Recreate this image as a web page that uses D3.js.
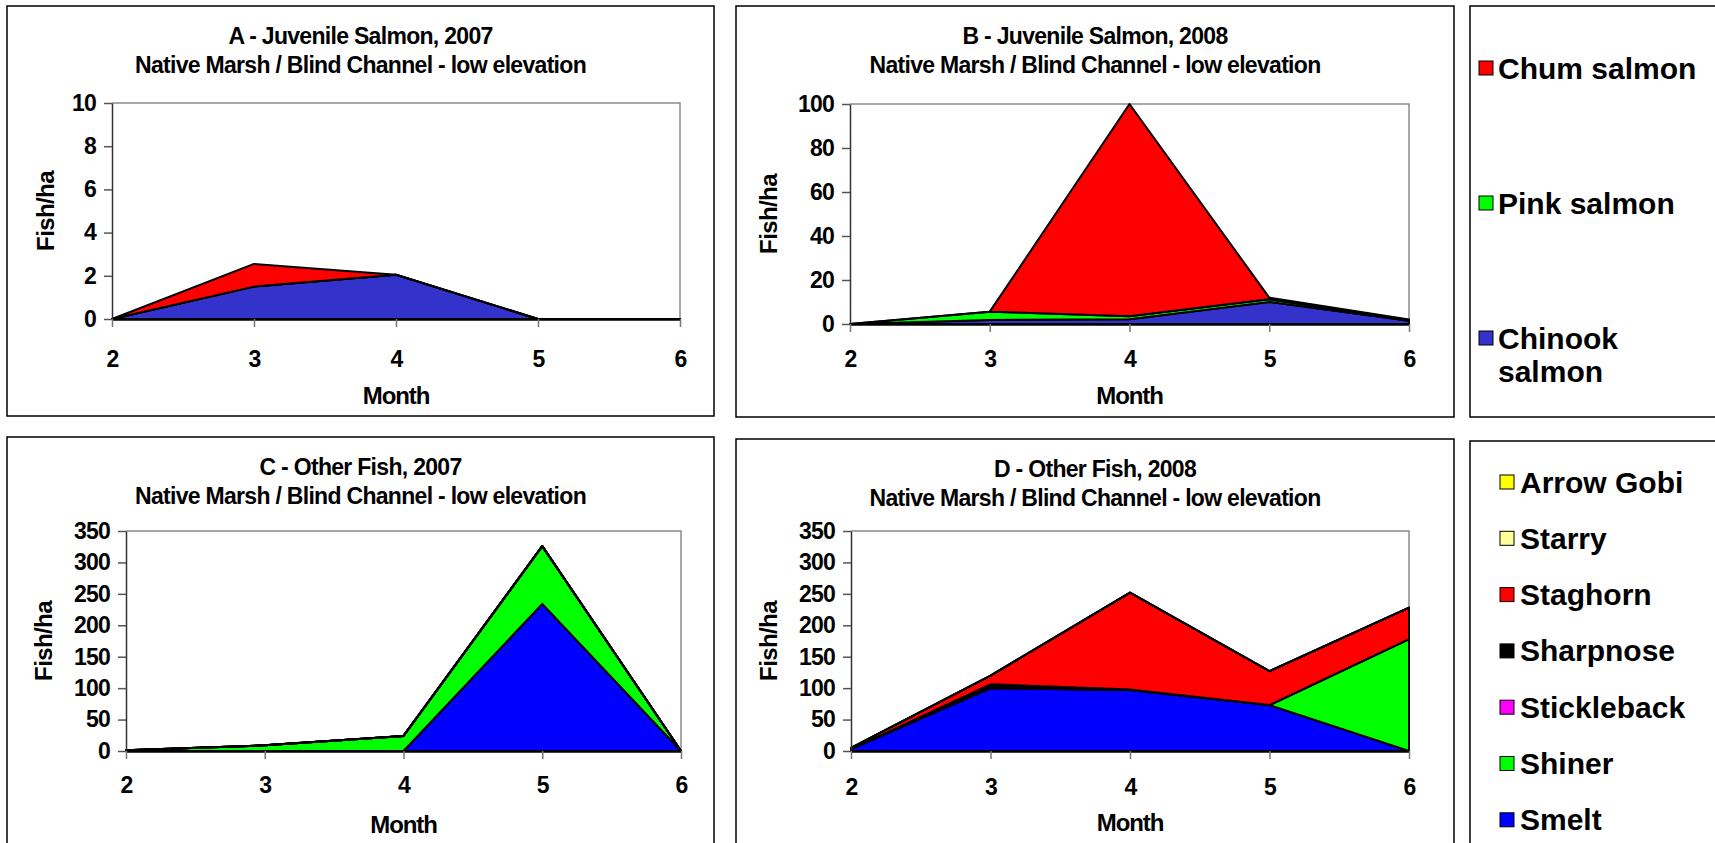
<!DOCTYPE html>
<html>
<head>
<meta charset="utf-8">
<script src="https://cdn.jsdelivr.net/npm/d3@7/dist/d3.min.js"></script>
<style>
  html, body { margin: 0; padding: 0; background: #fff; }
  svg { display: block; }
  text { font-family: "Liberation Sans", Arial, sans-serif; font-weight: bold; fill: #000; }
</style>
</head>
<body>
<svg id="chart" width="1715" height="843"></svg>
<script>
// Months sampled (x axis)
const months = [2, 3, 4, 5, 6];

// Juvenile salmon densities (fish/ha), 2007
const chinook2007 = [0, 1.5, 2.05, 0, 0];
const pink2007    = [0, 0, 0, 0, 0];
const chum2007    = [0, 1.05, 0, 0, 0];

// Juvenile salmon densities (fish/ha), 2008
const chinook2008 = [0, 1.8, 2.2, 10, 1.5];
const pink2008    = [0, 3.8, 1.3, 1.2, 0.3];
const chum2008    = [0, 0, 96.5, 0.8, 0.2];

// Other fish densities (fish/ha), 2007
const smelt2007       = [0, 0, 0, 234, 0];
const shiner2007      = [1, 9, 24, 92, 0];
const stickleback2007 = [0, 0, 0, 0, 0];
const sharpnose2007   = [0, 0, 0, 0, 0];
const staghorn2007    = [0, 0, 0, 0, 0];
const starry2007      = [0, 0, 0, 0, 0];
const arrowGobi2007   = [0, 0, 0, 0, 0];

// Other fish densities (fish/ha), 2008
const smelt2008       = [3, 100, 97, 73, 0];
const shiner2008      = [0, 0, 0, 0, 178];
const stickleback2008 = [0, 3, 1, 0, 0];
const sharpnose2008   = [0, 3, 0, 0, 0];
const staghorn2008    = [2, 14, 154, 54, 50];
const starry2008      = [0, 0, 0, 0, 0];
const arrowGobi2008   = [0, 0, 0, 0, 0];

// Axis ticks
const salmonTicks2007 = [0, 2, 4, 6, 8, 10];
const salmonTicks2008 = [0, 20, 40, 60, 80, 100];
const otherTicks = [0, 50, 100, 150, 200, 250, 300, 350];

// Series names (bottom of the stack first)
const salmonNames = ["Chinook salmon", "Pink salmon", "Chum salmon"];
const otherNames = ["Smelt", "Shiner", "Stickleback", "Sharpnose", "Staghorn", "Starry", "Arrow Gobi"];

const salmonColors = { "Chinook salmon": "#3333CC", "Pink salmon": "#00FF00", "Chum salmon": "#FF0000" };
const otherColors = {
  "Smelt": "#0000FF", "Shiner": "#00FF00", "Stickleback": "#FF00FF", "Sharpnose": "#000000",
  "Staghorn": "#FF0000", "Starry": "#FFFF99", "Arrow Gobi": "#FFFF00"
};

function rows(names, arrays) {
  return months.map((m, i) => {
    const r = { month: m };
    names.forEach((n, k) => r[n] = arrays[k][i]);
    return r;
  });
}

const panels = [
  {
    title: "A - Juvenile Salmon, 2007",
    box: [7, 6, 714, 416], plot: [112, 103, 680, 319],
    tickPad: 24, monthDy: 85, yTitleDx: 39,
    names: salmonNames, colors: salmonColors, ticks: salmonTicks2007,
    data: rows(salmonNames, [chinook2007, pink2007, chum2007])
  },
  {
    title: "B - Juvenile Salmon, 2008",
    box: [736, 6, 1454, 417], plot: [850, 104, 1409, 324],
    tickPad: 19, monthDy: 80, yTitleDx: 33,
    names: salmonNames, colors: salmonColors, ticks: salmonTicks2008,
    data: rows(salmonNames, [chinook2008, pink2008, chum2008])
  },
  {
    title: "C - Other Fish, 2007",
    box: [7, 437, 714, 860], plot: [126, 531, 681, 751],
    tickPad: 18, monthDy: 82, yTitleDx: 37,
    names: otherNames, colors: otherColors, ticks: otherTicks,
    data: rows(otherNames, [smelt2007, shiner2007, stickleback2007, sharpnose2007, staghorn2007, starry2007, arrowGobi2007])
  },
  {
    title: "D - Other Fish, 2008",
    box: [736, 439, 1454, 860], plot: [851, 531, 1409, 751],
    tickPad: 20, monthDy: 80, yTitleDx: 33,
    names: otherNames, colors: otherColors, ticks: otherTicks,
    data: rows(otherNames, [smelt2008, shiner2008, stickleback2008, sharpnose2008, staghorn2008, starry2008, arrowGobi2008])
  }
];

const svg = d3.select("#chart");

function styleLabel(sel, size, spacing) {
  sel.style("font-size", size + "px")
    .style("font-family", "Liberation Sans, Arial, sans-serif")
    .style("font-weight", "bold")
    .style("letter-spacing", spacing + "px")
    .attr("fill", "#000");
}

panels.forEach(p => {
  const [bx0, by0, bx1, by1] = p.box;
  const [px0, py0, px1, py1] = p.plot;
  const g = svg.append("g");

  g.append("rect")
    .attr("x", bx0).attr("y", by0)
    .attr("width", bx1 - bx0).attr("height", by1 - by0)
    .attr("fill", "#fff").attr("stroke", "#000").attr("stroke-width", 1.5);

  const cx = (bx0 + bx1) / 2;
  g.append("text").attr("x", cx).attr("y", by0 + 38)
    .attr("text-anchor", "middle").call(styleLabel, 23, -0.7).text(p.title);
  g.append("text").attr("x", cx).attr("y", by0 + 67)
    .attr("text-anchor", "middle").call(styleLabel, 23, -0.7)
    .text("Native Marsh / Blind Channel - low elevation");

  const x = d3.scaleLinear().domain([months[0], months[months.length - 1]]).range([px0, px1]);
  const y = d3.scaleLinear().domain([0, d3.max(p.ticks)]).range([py1, py0]);

  // plot-area frame (top and right)
  g.append("path")
    .attr("d", `M${px0},${py0}H${px1}V${py1}`)
    .attr("fill", "none").attr("stroke", "#8c8c8c").attr("stroke-width", 1.5);

  const stack = d3.stack().keys(p.names);
  const series = stack(p.data);
  const area = d3.area()
    .x(d => x(d.data.month))
    .y0(d => y(d[0]))
    .y1(d => y(d[1]));

  g.append("g").selectAll("path")
    .data(series)
    .join("path")
    .attr("d", area)
    .attr("fill", d => p.colors[d.key])
    .attr("stroke", "#000")
    .attr("stroke-width", 2)
    .attr("stroke-linejoin", "round");

  // y axis
  const yAxis = g.append("g")
    .attr("transform", `translate(${px0},0)`)
    .call(d3.axisLeft(y).tickValues(p.ticks).tickSize(8).tickSizeOuter(0).tickPadding(8));
  yAxis.select(".domain").attr("stroke", "#333").attr("stroke-width", 1.5);
  yAxis.selectAll(".tick line").attr("stroke", "#555").attr("stroke-width", 1.5);
  yAxis.selectAll(".tick text").call(styleLabel, 23, -0.8);

  // x axis
  const xAxis = g.append("g")
    .attr("transform", `translate(0,${py1})`)
    .call(d3.axisBottom(x).tickValues(months).tickFormat(d3.format("d")).tickSize(8).tickSizeOuter(0).tickPadding(p.tickPad));
  xAxis.select(".domain").attr("stroke", "#000").attr("stroke-width", 2.5);
  xAxis.selectAll(".tick line").attr("stroke", "#777").attr("stroke-width", 1.5);
  xAxis.selectAll(".tick text").call(styleLabel, 23, -0.8);

  g.append("text")
    .attr("x", (px0 + px1) / 2).attr("y", py1 + p.monthDy)
    .attr("text-anchor", "middle").call(styleLabel, 24, -1.1).text("Month");

  g.append("text")
    .attr("transform", `translate(${bx0 + p.yTitleDx},${(py0 + py1) / 2}) rotate(-90)`)
    .attr("text-anchor", "middle").attr("dy", "0.35em")
    .call(styleLabel, 24, -0.6).text("Fish/ha");
});

// Legends
function legend(box, items, colors, opts) {
  const [bx0, by0, bx1, by1] = box;
  const g = svg.append("g");
  g.append("rect").attr("x", bx0).attr("y", by0)
    .attr("width", bx1 - bx0).attr("height", by1 - by0)
    .attr("fill", "#fff").attr("stroke", "#000").attr("stroke-width", 1.5);
  items.forEach((it, i) => {
    const cy = opts.y0 + i * opts.step;
    g.append("rect")
      .attr("x", opts.sx).attr("y", cy - opts.s / 2)
      .attr("width", opts.s).attr("height", opts.s)
      .attr("fill", colors[it.key]).attr("stroke", "#000").attr("stroke-width", 1);
    const tx = opts.sx + opts.s + opts.gap;
    const t = g.append("text")
      .attr("x", tx).attr("y", cy)
      .style("font-size", opts.fs + "px");
    it.lines.forEach((ln, k) => {
      t.append("tspan").attr("x", tx).attr("dy", k === 0 ? "0.35em" : "1.1em").text(ln);
    });
  });
}

legend([1470, 6, 1730, 417],
  [
    { key: "Chum salmon", lines: ["Chum salmon"] },
    { key: "Pink salmon", lines: ["Pink salmon"] },
    { key: "Chinook salmon", lines: ["Chinook", "salmon"] }
  ],
  salmonColors, { sx: 1479, s: 14, gap: 5, y0: 68, step: 135, fs: 30 });

legend([1470, 441, 1730, 860],
  otherNames.slice().reverse().map(n => ({ key: n, lines: [n] })),
  otherColors, { sx: 1500, s: 14, gap: 6, y0: 482, step: 56.3, fs: 30 });
</script>
</body>
</html>
